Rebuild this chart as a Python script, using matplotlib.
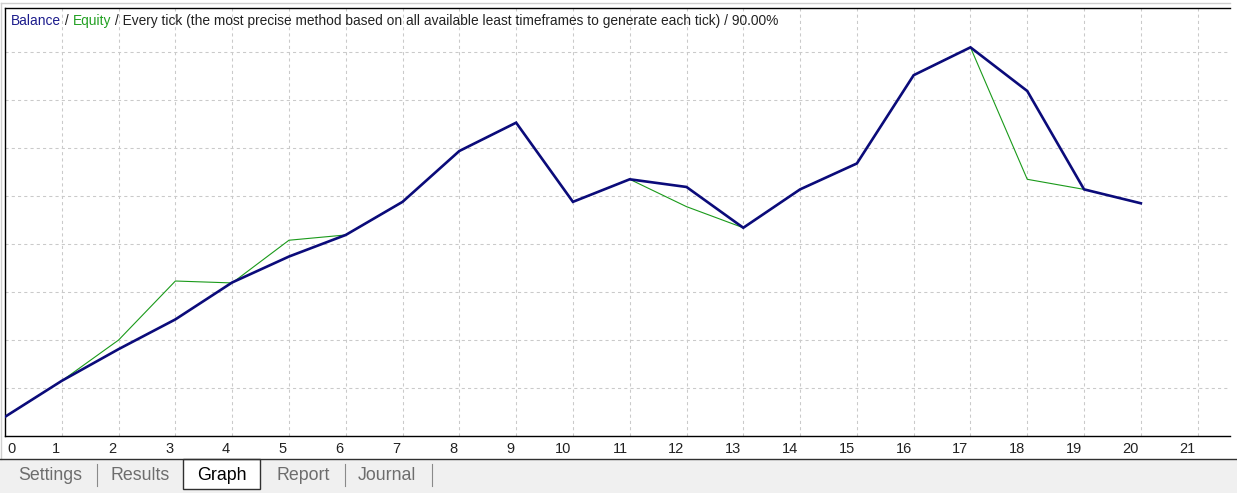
import numpy as np
import matplotlib.pyplot as plt
from matplotlib.patches import Rectangle
from matplotlib.lines import Line2D

W, H = 1237, 493

# trade numbers and curve values (in grid units)
trades = list(range(21))
balance = [0.40, 1.15, 1.81, 2.43, 3.20, 3.74, 4.19, 4.88, 5.94, 6.53, 4.88,
           5.35, 5.19, 4.34, 5.14, 5.68, 7.52, 8.10, 7.19, 5.14, 4.85]
equity = [0.40, 1.15, 2.00, 3.23, 3.19, 4.08, 4.19, 4.88, 5.94, 6.53, 4.88,
          5.35, 4.78, 4.34, 5.14, 5.68, 7.52, 8.10, 5.35, 5.14, 4.85]
x_labels = [str(i) for i in range(22)]
tabs = ['Settings', 'Results', 'Graph', 'Report', 'Journal']

plt.rcParams['font.family'] = ['Liberation Sans', 'DejaVu Sans']

fig = plt.figure(figsize=(W / 100, H / 100), dpi=100, facecolor='white')


def fx(px):
    return px / W


def fy(py):
    return 1 - py / H


# plot area
ax = fig.add_axes([fx(5), fy(436), fx(1230 - 5), (436 - 8) / H])
ax.set_xlim(0, 21.57)
ax.set_ylim(0, 8.92)
ax.set_xticks(range(1, 22))
ax.set_yticks(range(1, 9))
ax.tick_params(length=0, labelbottom=False, labelleft=False)
ax.grid(True, ls=(0, (3, 3)), color='#cacaca', lw=0.75)
for s in ['left', 'top', 'bottom']:
    ax.spines[s].set_linewidth(1.0)
    ax.spines[s].set_color('black')
ax.spines['right'].set_visible(False)

ax.plot(trades, equity, color='#1a9a1a', lw=0.8, zorder=3)
ax.plot(trades, balance, color='#0b0b7a', lw=1.9, zorder=4,
        solid_joinstyle='miter')

# x labels, right aligned on their grid lines
for i, lab in enumerate(x_labels):
    if i == 0:
        ax.annotate(lab, xy=(i, 0), xycoords=('data', 'axes fraction'),
                    xytext=(2, -6), textcoords='offset pixels',
                    ha='left', va='top', fontsize=10.5, color='#222222')
    else:
        ax.annotate(lab, xy=(i, 0), xycoords=('data', 'axes fraction'),
                    xytext=(-2, -6), textcoords='offset pixels',
                    ha='right', va='top', fontsize=10.5, color='#222222')

# legend line at the top
fs = 9.95
t1 = fig.text(fx(11), fy(25), 'Balance', color='#1c1c8c', fontsize=fs,
              va='baseline', ha='left')
t2 = ax.annotate(' / ', xy=(1, 0), xycoords=t1, va='bottom', ha='left',
                 fontsize=fs, color='#222222')
t3 = ax.annotate('Equity', xy=(1, 0), xycoords=t2, va='bottom', ha='left',
                 fontsize=fs, color='#22a022')
ax.annotate(' / Every tick (the most precise method based on all available '
            'least timeframes to generate each tick) / 90.00%',
            xy=(1, 0), xycoords=t3, va='bottom', ha='left',
            fontsize=fs, color='#222222')

# outer light frame
fig.add_artist(Line2D([fx(1), fx(1230)], [fy(3), fy(3)], color='#cfcfcf',
                      lw=1.0))
fig.add_artist(Line2D([fx(1), fx(1)], [fy(3), fy(459)], color='#cfcfcf',
                      lw=1.0))

# tab bar
fig.add_artist(Rectangle((0, 0), 1, fy(459), transform=fig.transFigure,
                         facecolor='#f0f0f0', edgecolor='none'))
fig.add_artist(Line2D([0, 1], [fy(459), fy(459)], color='#303030', lw=1.0))
fig.add_artist(Rectangle((fx(183), fy(489)), fx(260 - 183), (489 - 459) / H,
                         transform=fig.transFigure, facecolor='white',
                         edgecolor='#303030', lw=1.0))

tab_x = [50, 140, 222, 303, 387]
for name, x in zip(tabs, tab_x):
    fig.text(fx(x), fy(476), name, ha='center', va='center', fontsize=12.8,
             color='black' if name == 'Graph' else '#6d6d6d')
for x in [97, 345, 432]:
    fig.add_artist(Line2D([fx(x), fx(x)], [fy(464), fy(486)],
                          color='#8a8a8a', lw=0.8))

fig.savefig('out.png', dpi=100, facecolor='white')
